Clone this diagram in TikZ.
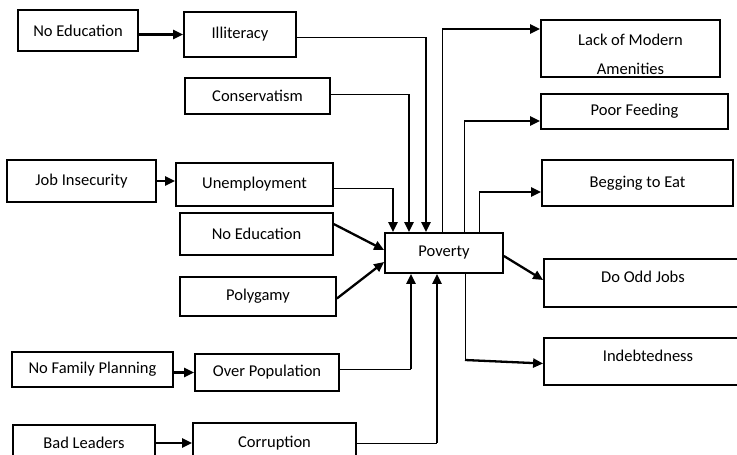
\documentclass[tikz,border=0pt]{standalone}
\usepackage{fontspec}
\setmainfont{Carlito}
\usetikzlibrary{arrows.meta}
\begin{document}
\begin{tikzpicture}[x=1pt,y=-1pt,
  box/.style={draw,line width=1.8pt,rectangle,inner sep=0pt,font={\fontsize{16.5}{20}\selectfont}},
  txt/.style={inner sep=0pt,font={\fontsize{16.5}{20}\selectfont}},
  thinline/.style={line width=0.9pt},
  thickline/.style={line width=2.3pt},
  tip/.style={line width=2.3pt,-{Triangle[length=10pt,width=9pt]}}]
\useasboundingbox (0,0) rectangle (737,455);
% left side
\node[box,minimum width=120pt,minimum height=41pt] (ne1) at (78,30.5) {No Education};
\node[box,minimum width=112pt,minimum height=45pt] (ill) at (240,34.5) {Illiteracy};
\node[box,minimum width=145pt,minimum height=36pt] (cons) at (257.5,96) {Conservatism};
\node[box,minimum width=149pt,minimum height=42pt] (job) at (81.5,181) {Job Insecurity};
\node[box,minimum width=157pt,minimum height=43pt] (unemp) at (254.5,184.5) {Unemployment};
\node[box,minimum width=153pt,minimum height=42pt] (ne2) at (256.5,234) {No Education};
\node[box,minimum width=156pt,minimum height=39pt] (poly) at (258,296.5) {Polygamy};
\node[box,minimum width=161pt,minimum height=35pt] (nfp) at (92.5,369.5) {No Family Planning};
\node[box,minimum width=144pt,minimum height=37pt] (overpop) at (267,372.5) {Over Population};
\node[box,minimum width=142pt,minimum height=36pt] (bad) at (84,443) {Bad Leaders};
\node[box,minimum width=163pt,minimum height=40pt] (corr) at (274.5,443) {Corruption};
% centre
\node[box,minimum width=118pt,minimum height=40pt] (pov) at (444,253) {Poverty};
% right side
\node[box,minimum width=179pt,minimum height=57pt] (lack) at (630.5,48.5) {};
\node[txt,align=center,font={\fontsize{16.5}{29}\selectfont}] (lacktxt) at (630.5,54) {Lack of Modern\\Amenities};
\node[box,minimum width=187pt,minimum height=35pt] (poor) at (634.5,111.5) {Poor Feeding};
\node[box,minimum width=191pt,minimum height=46pt] (beg) at (637.5,183) {Begging to Eat};
\node[box,minimum width=200pt,minimum height=48pt] (odd) at (644,283) {};
\node[txt] (oddtxt) at (643,277) {Do Odd Jobs};
\node[box,minimum width=200pt,minimum height=47pt] (indeb) at (644,361.5) {};
\node[txt] (indebtxt) at (648,356) {Indebtedness};
% bend coordinates
\coordinate (ci) at (426,37);
\coordinate (cc) at (409,94);
\coordinate (cu) at (393,188);
\coordinate (co) at (411,369);
\coordinate (ck) at (437,443);
\coordinate (ol) at (442,29);
\coordinate (op) at (464,121);
\coordinate (ob) at (479,192);
\coordinate (oi) at (465,360);
% left arrows
\draw[tip] (ne1.east |- ill.west) -- (ill.west);
\draw[tip] (job.east) -- (unemp.west |- job.east);
\draw[tip] (nfp.east |- overpop.west) -- (overpop.west);
\draw[tip] (bad.east) -- (corr.west |- bad.east);
% causes into poverty
\draw[thinline] (ill.east |- ci) -- (ci);
\draw[tip] (ci) -- (ci |- pov.north);
\draw[thinline] (cons.east |- cc) -- (cc);
\draw[tip] (cc) -- (cc |- pov.north);
\draw[thinline] (unemp.east |- cu) -- (cu);
\draw[tip] (cu) -- (cu |- pov.north);
\draw[tip] ([yshift=-12pt]ne2.north east) -- ([yshift=3pt]pov.west);
\draw[tip] ([yshift=-2pt]poly.east) -- ([yshift=-9pt]pov.west);
\draw[thinline] (overpop.east |- co) -- (co);
\draw[tip] (co) -- (co |- pov.south);
\draw[thinline] (corr.east |- ck) -- (ck);
\draw[tip] (ck) -- (ck |- pov.south);
% effects from poverty
\draw[thinline] (ol |- pov.north) -- (ol);
\draw[tip] (ol) -- (lack.west |- ol);
\draw[thinline] (op |- pov.north) -- (op);
\draw[tip] (op) -- (poor.west |- op);
\draw[thinline] (ob |- pov.north) -- (ob);
\draw[tip] (ob) -- (beg.west |- ob);
\draw[tip] ([yshift=-3pt]pov.east) -- ([yshift=3pt]odd.west);
\draw[thinline] (oi |- pov.south) -- (oi);
\draw[tip] (oi) -- ([yshift=-2pt]indeb.west);
\end{tikzpicture}
\end{document}
